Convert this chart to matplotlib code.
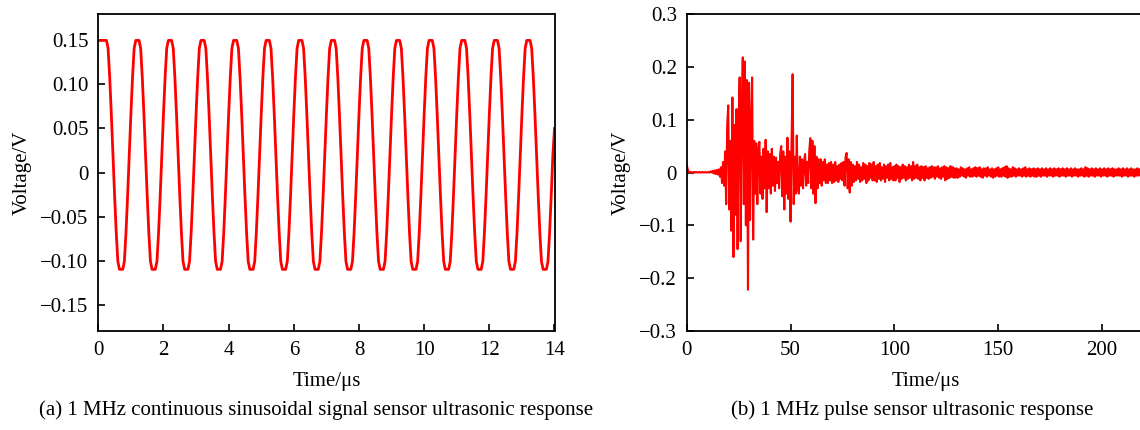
import numpy as np
import matplotlib
matplotlib.use("Agg")
import matplotlib.pyplot as plt

plt.rcParams['font.family'] = ['Liberation Serif', 'DejaVu Serif']
plt.rcParams['font.size'] = 15
plt.rcParams['axes.unicode_minus'] = True

# ---------------- data ----------------
# (a) continuous sinusoidal response, sampled every 0.05 us from 0 to 14 us (mV)
sine_step_us = 0.05
sine_mv = [
    150, 150, 150, 150, 150, 150, 141, 108, 66, 20, -26, -68, -101, -110, -110, -110, -101, -68, -26, 20,
    66, 108, 141, 150, 150, 150, 141, 108, 66, 20, -26, -68, -101, -110, -110, -110, -101, -68, -26, 20,
    66, 108, 141, 150, 150, 150, 141, 108, 66, 20, -26, -68, -101, -110, -110, -110, -101, -68, -26, 20,
    66, 108, 141, 150, 150, 150, 141, 108, 66, 20, -26, -68, -101, -110, -110, -110, -101, -68, -26, 20,
    66, 108, 141, 150, 150, 150, 141, 108, 66, 20, -26, -68, -101, -110, -110, -110, -101, -68, -26, 20,
    66, 108, 141, 150, 150, 150, 141, 108, 66, 20, -26, -68, -101, -110, -110, -110, -101, -68, -26, 20,
    66, 108, 141, 150, 150, 150, 141, 108, 66, 20, -26, -68, -101, -110, -110, -110, -101, -68, -26, 20,
    66, 108, 141, 150, 150, 150, 141, 108, 66, 20, -26, -68, -101, -110, -110, -110, -101, -68, -26, 20,
    66, 108, 141, 150, 150, 150, 141, 108, 66, 20, -26, -68, -101, -110, -110, -110, -101, -68, -26, 20,
    66, 108, 141, 150, 150, 150, 141, 108, 66, 20, -26, -68, -101, -110, -110, -110, -101, -68, -26, 20,
    66, 108, 141, 150, 150, 150, 141, 108, 66, 20, -26, -68, -101, -110, -110, -110, -101, -68, -26, 20,
    66, 108, 141, 150, 150, 150, 141, 108, 66, 20, -26, -68, -101, -110, -110, -110, -101, -68, -26, 20,
    66, 108, 141, 150, 150, 150, 141, 108, 66, 20, -26, -68, -101, -110, -110, -110, -101, -68, -26, 20,
    66, 108, 141, 150, 150, 150, 141, 108, 66, 20, -26, -68, -101, -110, -110, -110, -101, -68, -26, 20,
    50,
]

# (b) pulse response, sampled every 0.5 us from 0 to 230 us (mV)
pulse_step_us = 0.5
pulse_mv = [
    15, 6, 1, 0, 1, 0, 0, 1, 0, 1, 0, 0, 1, 0, 0, 1, 0, 0, 1, 0,
    0, 1, 0, 2, 0, 3, -2, 4, -3, 5, -4, 6, -8, 10, -20, 20, -25, 40, -60, 90,
    127, -70, 60, -110, 142, -160, 90, -80, 120, -145, 100, 180, -130, 120, 218, -60, 210, -100, 175, -222,
    170, -90, 100, 180, -127, 60, -40, 55, -60, 40, 58, -40, 30, -50, 45, -30, 62, -75, 40, -30,
    35, -40, 45, -25, 30, -35, 28, -20, 20, -30, 35, 50, -45, 40, -70, 30, -40, 66, -50, 40,
    -93, 60, 186, -60, 30, -40, 70, -30, -40, 30, -25, 25, -30, 20, 35, -25, 20, -20, 40, 65,
    -30, 60, -40, 50, -58, 30, -30, 25, -20, 25, -25, 20, -15, 25, -20, 15, -20, 18, -15, 20,
    -20, 15, -18, 20, -15, 12, -18, 15, -12, 18, -15, 20, -25, 30, 37, -30, 25, -38, 20, -25,
    15, -18, 12, -15, 20, -12, 15, -18, 10, -15, 18, -12, 15, -20, 12, -15, 18, -10, 15, -15,
    20, -15, 12, -18, 15, -12, 18, -15, 10, -12, 15, -18, 12, -10, 15, -15, 18, -12, 10, -15,
    12, -15, 15, -10, 12, -18, 10, -12, 15, -10, 12, -15, 10, -12, 15, -10, 12, -15, 20, -12,
    12, -10, 15, -12, 10, -15, 12, -10, 10, -15, 12, -10, 8, -12, 10, -10, 12, -8, 10, -12,
    10, -8, 12, -10, 8, -12, 10, -8, 12, -15, 10, -12, 8, -10, 12, -8, 10, -10, 8, -10,
    8, -10, 6, -8, 10, -6, 8, -8, 6, -10, 8, -6, 10, -8, 6, -8, 8, -6, 10, -8,
    8, -6, 10, -8, 6, -10, 8, -6, 8, -8, 10, -6, 6, -8, 8, -10, 6, -8, 8, -6,
    10, -8, 6, -8, 8, -6, 10, -8, 12, -10, 8, -8, 6, -8, 10, -6, 8, -8, 6, -6,
    8, -6, 6, -8, 8, -6, 10, -8, 6, -6, 8, -8, 6, -6, 8, -8, 6, -8, 8, -6,
    6, -8, 8, -6, 6, -6, 8, -8, 6, -6, 8, -6, 6, -8, 8, -6, 6, -6, 8, -8,
    6, -6, 8, -6, 6, -8, 8, -6, 6, -6, 8, -8, 6, -6, 8, -6, 6, -8, 6, -6,
    8, -6, 6, -8, 10, -6, 8, -8, 6, -6, 8, -6, 6, -8, 8, -6, 6, -6, 8, -8,
    6, -6, 8, -6, 6, -8, 8, -6, 6, -6, 8, -8, 6, -6, 6, -6, 8, -6, 6, -8,
    8, -6, 6, -6, 8, -8, 6, -6, 8, -6, 6, -8, 6, -6, 8, -6, 6, -6, 8, -8,
    6, -6, 8, -6, 6, -8, 6, -6, 8, -6, 6, -6, 8, -8, 6, -6, 6, -6, 8, -6,
    6,
]

a_xticks = [0, 2, 4, 6, 8, 10, 12, 14]
a_yticks = [0.15, 0.10, 0.05, 0, -0.05, -0.10, -0.15]
a_ylabels = ["0.15", "0.10", "0.05", "0", "\u22120.05", "\u22120.10", "\u22120.15"]
b_xticks = [0, 50, 100, 150, 200]
b_yticks = [0.3, 0.2, 0.1, 0, -0.1, -0.2, -0.3]
b_ylabels = ["0.3", "0.2", "0.1", "0", "\u22120.1", "\u22120.2", "\u22120.3"]

caption_a = "(a) 1 MHz continuous sinusoidal signal sensor ultrasonic response"
caption_b = "(b) 1 MHz pulse sensor ultrasonic response"

# ---------------- figure ----------------
W, H = 1140, 430
fig = plt.figure(figsize=(W / 100, H / 100), dpi=100)

def px_axes(x0, y0, x1, y1):
    return fig.add_axes([x0 / W, 1 - y1 / H, (x1 - x0) / W, (y1 - y0) / H])

ax1 = px_axes(98.3, 14, 554.5, 331)
ax2 = px_axes(686.7, 14, 686.7 + 230 * 2.077, 331)

t_a = np.arange(len(sine_mv)) * sine_step_us
v_a = np.array(sine_mv) / 1000.0
ax1.plot(t_a, v_a, color='#ff0000', lw=2.0)
ax1.set_xlim(0, 14)
ax1.set_ylim(-0.18, 0.18)
ax1.set_xticks(a_xticks)
ax1.set_yticks(a_yticks, a_ylabels)

t_b = np.arange(len(pulse_mv)) * pulse_step_us
v_b = np.array(pulse_mv) / 1000.0
ax2.plot(t_b, v_b, color='#ff0000', lw=1.5)
ax2.set_xlim(0, 230)
ax2.set_ylim(-0.3, 0.3)
ax2.set_xticks(b_xticks)
ax2.set_yticks(b_yticks, b_ylabels)

for ax in (ax1, ax2):
    for s in ax.spines.values():
        s.set_linewidth(1.3)
    ax.tick_params(direction='in', length=5, width=1.2, top=False, right=False,
                   labelsize=15, pad=7)
    ax.set_xlabel("Time/\u03bcs", fontsize=15, labelpad=9)
    ax.set_ylabel("Voltage/V", fontsize=15, labelpad=6)

fig.text(316 / W, 1 - 410 / H, caption_a, ha='center', va='center', fontsize=15)
fig.text(912 / W, 1 - 410 / H, caption_b, ha='center', va='center', fontsize=15)

fig.savefig("out.png", dpi=100)
